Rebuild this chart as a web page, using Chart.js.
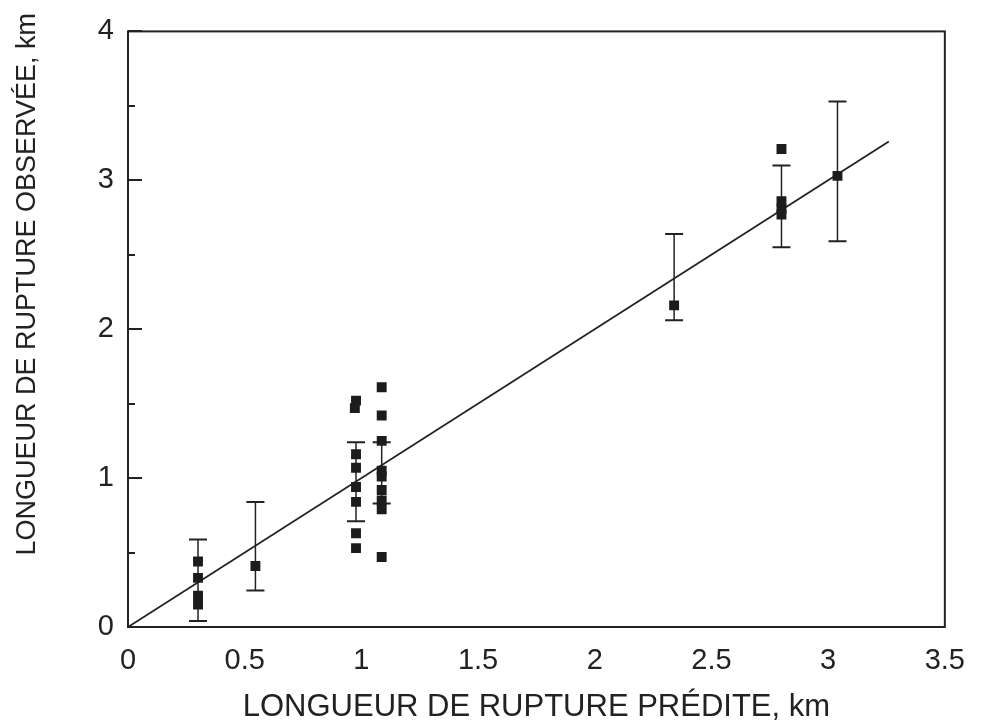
<!DOCTYPE html>
<html><head><meta charset="utf-8">
<script src="https://cdn.jsdelivr.net/npm/chart.js@4/dist/chart.umd.min.js"></script>
<style>html,body{margin:0;padding:0;background:#fff}#wrap{width:982px;height:724px}</style>
</head><body><div id="wrap"><canvas id="c" width="982" height="724"></canvas></div>
<script>
// ---- data ----
const xTickValues = [0, 0.5, 1, 1.5, 2, 2.5, 3, 3.5];
const yTickValues = [0, 1, 2, 3, 4];
const pointX = [0.30, 0.30, 0.30, 0.30,
                0.546,
                0.977, 0.972, 0.977, 0.977, 0.977, 0.977, 0.977, 0.977,
                1.087, 1.087, 1.087, 1.087, 1.087, 1.087, 1.087, 1.087, 1.087,
                2.34,
                2.80, 2.80, 2.80, 2.80,
                3.04];
const pointY = [0.44, 0.33, 0.21, 0.15,
                0.41,
                1.52, 1.47, 1.16, 1.07, 0.94, 0.84, 0.63, 0.53,
                1.61, 1.42, 1.25, 1.05, 1.01, 0.92, 0.85, 0.79, 0.47,
                2.16,
                3.21, 2.86, 2.81, 2.77,
                3.03];
const barX    = [0.30, 0.546, 0.977, 1.087, 2.34, 2.80, 3.04];
const barLow  = [0.04, 0.245, 0.71,  0.83,  2.06, 2.55, 2.59];
const barHigh = [0.587, 0.84, 1.24,  1.24,  2.64, 3.10, 3.53];
const fitX = [0, 3.26];
const fitY = [0, 3.26];
const xTitle = 'LONGUEUR DE RUPTURE PRÉDITE, km';
const yTitle = 'LONGUEUR DE RUPTURE OBSERVÉE, km';

const INK = '#222222';
const FONT = "'Liberation Sans', Arial, Helvetica, sans-serif";

const decor = {
  id: 'decor',
  beforeDatasetsDraw(chart) {
    const {ctx, chartArea: a, scales: {x, y}} = chart;
    ctx.save();
    ctx.strokeStyle = INK;
    // y-axis inward ticks (major every 1, minor every 0.5)
    ctx.lineWidth = 2;
    for (let v = y.min; v <= y.max + 1e-9; v += 0.5) {
      const py = Math.round(y.getPixelForValue(v));
      const len = Math.abs(v - Math.round(v)) < 1e-9 ? 14 : 7;
      ctx.beginPath(); ctx.moveTo(a.left, py); ctx.lineTo(a.left + len, py); ctx.stroke();
    }
    // error bars
    barX.forEach((bx, i) => {
      const px = x.getPixelForValue(bx);
      const pl = y.getPixelForValue(barLow[i]);
      const ph = y.getPixelForValue(barHigh[i]);
      ctx.lineWidth = 1.5;
      ctx.beginPath(); ctx.moveTo(px, pl); ctx.lineTo(px, ph); ctx.stroke();
      ctx.lineWidth = 2;
      ctx.beginPath();
      ctx.moveTo(px - 9, pl); ctx.lineTo(px + 9, pl);
      ctx.moveTo(px - 9, ph); ctx.lineTo(px + 9, ph);
      ctx.stroke();
    });
    ctx.restore();
  },
  afterDraw(chart) {
    const {ctx, chartArea: a} = chart;
    ctx.save();
    ctx.strokeStyle = INK;
    ctx.lineWidth = 2;
    ctx.strokeRect(a.left, a.top, a.right - a.left, a.bottom - a.top);
    ctx.restore();
  }
};

new Chart(document.getElementById('c'), {
  type: 'scatter',
  data: {
    datasets: [
      {
        label: 'fit',
        data: fitX.map((v, i) => ({x: v, y: fitY[i]})),
        showLine: true,
        borderColor: INK,
        borderWidth: 1.8,
        pointRadius: 0,
        fill: false,
        order: 2
      },
      {
        label: 'obs',
        data: pointX.map((v, i) => ({x: v, y: pointY[i]})),
        pointStyle: 'rect',
        pointRadius: 7,
        backgroundColor: '#1c1c1c',
        borderWidth: 0,
        order: 1
      }
    ]
  },
  options: {
    responsive: false,
    animation: false,
    devicePixelRatio: 1,
    layout: {padding: {left: 0, top: 28, right: 27, bottom: 0}},
    plugins: {legend: {display: false}, tooltip: {enabled: false}},
    scales: {
      x: {
        type: 'linear', min: 0, max: 3.5,
        afterBuildTicks: s => { s.ticks = xTickValues.map(v => ({value: v})); },
        afterFit: s => { s.height = 97; },
        grid: {display: false, drawTicks: false},
        border: {display: false},
        ticks: {color: INK, padding: 17, maxRotation: 0, autoSkip: false,
                font: {family: FONT, size: 29},
                callback: v => String(v)},
        title: {display: true, text: xTitle, color: INK,
                font: {family: FONT, size: 31, lineHeight: 1}, padding: {top: 0, bottom: 1}}
      },
      y: {
        type: 'linear', min: 0, max: 4,
        afterBuildTicks: s => { s.ticks = yTickValues.map(v => ({value: v})); },
        afterFit: s => { s.width = 128; },
        grid: {display: false, drawTicks: false},
        border: {display: false},
        ticks: {color: INK, padding: 14, font: {family: FONT, size: 29},
                callback: v => String(v)},
        title: {display: true, text: '\u00A0'.repeat(12) + yTitle, color: INK,
                font: {family: FONT, size: 27, lineHeight: 1.2}, padding: {top: 11, bottom: 0}}
      }
    }
  },
  plugins: [decor]
});
</script>
</body></html>
